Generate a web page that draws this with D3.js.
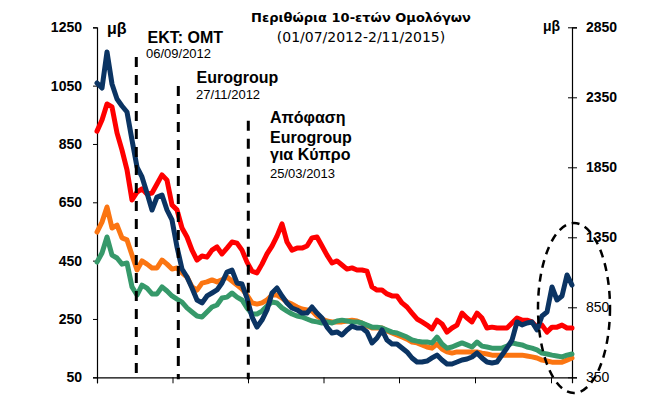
<!DOCTYPE html>
<html>
<head>
<meta charset="utf-8">
<script src="https://cdn.jsdelivr.net/npm/d3@7"></script>
<style>
  body { margin: 0; background: #fff; }
  text { font-family: "Liberation Sans", Arial, sans-serif; }
</style>
</head>
<body>
<div id="chart"></div>
<script>
//spreads, one value per sample step (left axis, bp)
var redLeft = [894,932,987,977,888,829,761,658,685,696,
  678,682,713,744,726,641,624,562,531,486,
  452,466,462,486,497,473,493,514,510,486,
  445,414,408,438,473,500,534,576,514,486,
  493,493,500,528,531,500,469,442,449,435,
  421,425,418,418,414,360,349,349,336,329,
  329,305,291,270,250,240,229,216,246,233,
  205,219,229,270,253,240,270,253,219,222,
  219,219,219,236,253,246,246,240,222,229,
  205,222,222,229,219,219];

var orangeLeft = [548,582,634,562,572,528,521,469,418,449,
  438,425,425,452,438,421,425,408,394,360,
  349,373,377,384,377,384,394,380,366,353,
  332,305,301,305,315,332,332,322,308,301,
  291,284,281,277,260,250,243,240,240,240,
  243,246,243,236,226,219,219,219,209,202,
  195,188,181,171,168,161,154,150,164,147,
  137,133,137,137,137,137,137,133,130,126,
  126,126,126,126,126,126,123,120,116,109,
  106,102,102,102,109,116];

var greenLeft = [445,476,531,469,459,438,442,360,332,366,
  356,336,336,360,346,329,318,308,288,274,
  260,257,274,291,298,322,325,339,325,315,
  288,267,267,277,294,308,305,288,277,267,
  260,257,250,243,240,236,240,236,243,246,
  243,240,240,236,229,222,222,219,212,205,
  202,195,188,178,174,171,171,168,188,164,
  150,154,161,168,161,154,171,157,154,150,
  150,150,157,168,164,161,154,150,144,133,
  130,126,123,120,126,130];

//this one goes on the right axis
var blueRight = [2452,2416,2674,2445,2338,2288,2245,2045,1852,1781,
  1666,1545,1638,1652,1545,1474,1281,1124,1066,988,
  902,881,931,952,974,1024,1102,1116,1024,1016,
  916,781,709,759,831,952,988,931,881,845,
  831,809,809,852,809,774,709,666,674,652,
  688,716,702,702,674,595,631,688,616,588,
  588,559,531,488,459,459,466,488,509,474,
  445,445,459,474,481,495,524,488,459,452,
  459,509,559,616,745,724,738,745,688,788,
  816,995,902,931,1081,1009];

//axis ticks
var leftTicks = [50, 250, 450, 650, 850, 1050, 1250];
var rightTicks = [350, 850, 1350, 1850, 2350, 2850];
var bottomTicks = [0, 15.1, 30.2, 45.3, 60.4, 75.6, 90.8];

//event markers (sample position, top of the dashed line on left axis)
var eventPos = [7.86, 16.26, 30.26];
var eventTop = [1148, 1049, 930];

var svgWidth = 649;
var svgHeight = 395;

var margin = { top: 27.3, right: 77, bottom: 17.7, left: 97 };
const width = svgWidth - margin.left - margin.right;
const height = svgHeight - margin.top - margin.bottom;

const svg = d3.select("#chart")
  .append("svg")
  .attr("width", svgWidth)
  .attr("height", svgHeight);

svg.append("rect").attr("width", svgWidth).attr("height", svgHeight).attr("fill", "#fff");

const g = svg.append("g")
  .attr("transform", `translate(${margin.left}, ${margin.top})`);

//scales
var x = d3.scaleLinear().domain([0, redLeft.length - 1]).range([0, width]);
var yLeft = d3.scaleLinear().domain([50, 1250]).range([height, 0]);
var yRight = d3.scaleLinear().domain([350, 2850]).range([height, 0]);

//left axis
var leftAxis = g.append("g")
  .call(d3.axisLeft(yLeft).tickValues(leftTicks).tickFormat(d3.format("d")).tickSize(4).tickPadding(11));
leftAxis.select(".domain").attr("stroke", "#000").attr("stroke-width", 1.2);
leftAxis.selectAll("text")
  .attr("font-size", "14px")
  .attr("font-weight", "bold")
  .attr("fill", "#000");

//right axis
var rightAxis = g.append("g")
  .attr("transform", `translate(${width}, 0)`)
  .call(d3.axisRight(yRight).tickValues(rightTicks).tickFormat(d3.format("d")).tickSize(5).tickPadding(9));
rightAxis.select(".domain").attr("stroke", "#000").attr("stroke-width", 1.2);
rightAxis.selectAll(".tick line").attr("x1", -4).attr("x2", 5);
rightAxis.selectAll("text")
  .attr("font-size", "14px")
  .attr("font-weight", d => (d === 850 || d === 350) ? "normal" : "bold")
  .attr("fill", "#000");

//bottom axis, no labels
var bottomAxis = g.append("g")
  .attr("transform", `translate(0, ${height})`)
  .call(d3.axisBottom(x).tickValues(bottomTicks).tickSize(6).tickFormat(""));
bottomAxis.select(".domain").attr("stroke", "#000").attr("stroke-width", 1.2);

//lines
var lineLeft = d3.line().x((d, i) => x(i)).y(d => yLeft(d));
var lineRight = d3.line().x((d, i) => x(i)).y(d => yRight(d));

var series = [
  { values: redLeft, line: lineLeft, color: "#ff0000" },
  { values: orangeLeft, line: lineLeft, color: "#fb7512" },
  { values: greenLeft, line: lineLeft, color: "#36996a" },
  { values: blueRight, line: lineRight, color: "#0b3463" }
];

series.forEach(function(s) {
  g.append("path")
    .datum(s.values)
    .attr("fill", "none")
    .attr("stroke", s.color)
    .attr("stroke-width", 5)
    .attr("stroke-linejoin", "round")
    .attr("stroke-linecap", "round")
    .attr("d", s.line);
});

//dashed event lines
g.selectAll(".event")
  .data(eventPos)
  .enter()
  .append("line")
  .attr("x1", d => x(d))
  .attr("x2", d => x(d))
  .attr("y1", (d, i) => yLeft(eventTop[i]))
  .attr("y2", height + 2)
  .attr("stroke", "#000")
  .attr("stroke-width", 3)
  .attr("stroke-dasharray", "10,8");

//dashed ellipse around the last months
g.append("ellipse")
  .attr("cx", x(95.4))
  .attr("cy", yRight(845))
  .attr("rx", x(7.2) - x(0))
  .attr("ry", yRight(350) - yRight(957))
  .attr("fill", "none")
  .attr("stroke", "#000")
  .attr("stroke-width", 2.5)
  .attr("stroke-dasharray", "8,6");

//titles
svg.append("text")
  .attr("x", 361).attr("y", 22)
  .attr("text-anchor", "middle")
  .style("font-family", "DejaVu Sans, sans-serif")
  .attr("font-size", "13px")
  .attr("font-weight", "bold")
  .text("Περιθώρια 10-ετών Ομολόγων");

svg.append("text")
  .attr("x", 361).attr("y", 42)
  .attr("text-anchor", "middle")
  .style("font-family", "DejaVu Sans, sans-serif")
  .attr("font-size", "14px")
  .text("(01/07/2012-2/11/2015)");

//unit labels
svg.append("text").attr("x", 107).attr("y", 34)
  .attr("font-size", "16px").attr("font-weight", "bold").text("μβ");
svg.append("text").attr("x", 543).attr("y", 31)
  .attr("font-size", "14px").attr("font-weight", "bold").text("μβ");

//event labels
var notes = [
  { x: 147.5, y: 42.5, size: 16, bold: true, text: "ΕΚΤ: ΟΜΤ" },
  { x: 146, y: 58, size: 13, bold: false, text: "06/09/2012" },
  { x: 196.5, y: 83, size: 16, bold: true, text: "Eurogroup" },
  { x: 196, y: 99, size: 13, bold: false, text: "27/11/2012" },
  { x: 270, y: 123, size: 16, bold: true, text: "Απόφαση" },
  { x: 270, y: 143, size: 16, bold: true, text: "Eurogroup" },
  { x: 270, y: 160, size: 16, bold: true, text: "για Κύπρο" },
  { x: 270, y: 178, size: 13, bold: false, text: "25/03/2013" }
];

svg.selectAll(".note")
  .data(notes)
  .enter()
  .append("text")
  .attr("x", d => d.x)
  .attr("y", d => d.y)
  .attr("font-size", d => d.size + "px")
  .attr("font-weight", d => d.bold ? "bold" : "normal")
  .text(d => d.text);
</script>
</body>
</html>
